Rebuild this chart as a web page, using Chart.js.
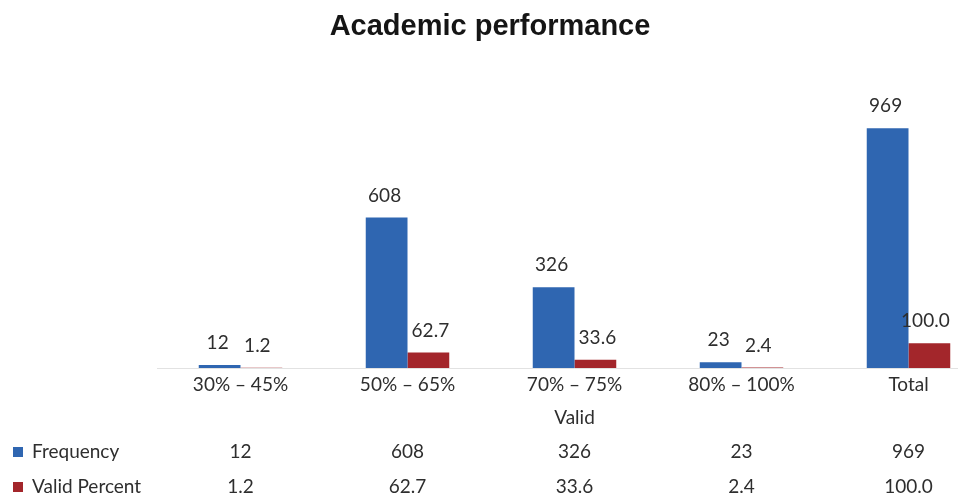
<!DOCTYPE html>
<html>
<head>
<meta charset="utf-8">
<title>Academic performance</title>
<script src="https://cdn.jsdelivr.net/npm/chart.js@4"></script>
<style>
  html, body { margin: 0; padding: 0; background: #fff; overflow: hidden; }
  #wrap { position: relative; width: 992px; height: 498px; }
</style>
</head>
<body>
<div id="wrap"><canvas id="perfChart"></canvas></div>
<script>
const categories = ["30% \u2013 45%", "50% \u2013 65%", "70% \u2013 75%", "80% \u2013 100%", "Total"];
const frequency = [12, 608, 326, 23, 969];
const validPercent = [1.2, 62.7, 33.6, 2.4, 100.0];
const groupLabel = "Valid";

const BLUE = "#2f66b1";
const RED = "#a3262b";
const TEXT = "#2e2e2e";
const FONT = "Lato, 'Open Sans', sans-serif";

function fmt(v, dsIndex) {
    return dsIndex === 1 ? v.toFixed(1) : String(v);
}

// value labels above each bar
const barLabels = {
    id: "barLabels",
    afterDatasetsDraw(chart) {
        const ctx = chart.ctx;
        ctx.save();
        ctx.font = "19px " + FONT;
        ctx.fillStyle = TEXT;
        ctx.textAlign = "center";
        ctx.textBaseline = "middle";
        chart.data.datasets.forEach((ds, i) => {
            chart.getDatasetMeta(i).data.forEach((bar, j) => {
                const dx = i === 1 && j !== 1 && j !== 2 ? -4 : 2;
                ctx.fillText(fmt(ds.data[j], i), bar.x + (i === 0 ? -2 : dx), bar.y - 22);
            });
        });
        ctx.restore();
    }
};

// title, axis line, category labels and data table underneath
const tableDraw = {
    id: "tableDraw",
    afterDraw(chart) {
        const ctx = chart.ctx;
        const x = chart.scales.x;
        const area = chart.chartArea;
        ctx.save();

        ctx.font = "bold 29px 'Liberation Sans', Arial, sans-serif";
        ctx.fillStyle = "#151515";
        ctx.textAlign = "center";
        ctx.textBaseline = "middle";
        ctx.fillText("Academic performance", 490, 27);

        ctx.strokeStyle = "#e2e2e2";
        ctx.lineWidth = 1;
        ctx.beginPath();
        ctx.moveTo(area.left, area.bottom + 0.5);
        ctx.lineTo(area.right, area.bottom + 0.5);
        ctx.stroke();

        ctx.fillStyle = TEXT;
        ctx.font = "19px " + FONT;
        categories.forEach((c, i) => {
            ctx.fillText(c, x.getPixelForValue(i), 385);
        });
        ctx.fillText(groupLabel, x.getPixelForValue(2), 418);

        const rows = [
            { name: "Frequency", color: BLUE, data: frequency, ds: 0, y: 452 },
            { name: "Valid Percent", color: RED, data: validPercent, ds: 1, y: 487 }
        ];
        rows.forEach(r => {
            ctx.fillStyle = r.color;
            ctx.fillRect(13, r.y - 5, 10, 10);
            ctx.fillStyle = TEXT;
            ctx.textAlign = "left";
            ctx.fillText(r.name, 32, r.y);
            ctx.textAlign = "center";
            r.data.forEach((v, i) => {
                ctx.fillText(fmt(v, r.ds), x.getPixelForValue(i), r.y);
            });
        });
        ctx.restore();
    }
};

new Chart(document.getElementById("perfChart"), {
    type: "bar",
    data: {
        labels: categories,
        datasets: [
            { label: "Frequency", data: frequency, backgroundColor: BLUE },
            { label: "Valid Percent", data: validPercent, backgroundColor: RED }
        ]
    },
    options: {
        responsive: true,
        maintainAspectRatio: false,
        animation: false,
        layout: { padding: { top: 40, bottom: 130, left: 157, right: 0 } },
        datasets: { bar: { categoryPercentage: 0.5, barPercentage: 1.0 } },
        scales: {
            x: { display: false },
            y: { display: false, min: 0, max: 1325 }
        },
        plugins: {
            legend: { display: false },
            title: { display: false },
            tooltip: { enabled: false }
        }
    },
    plugins: [barLabels, tableDraw]
});
</script>
</body>
</html>
